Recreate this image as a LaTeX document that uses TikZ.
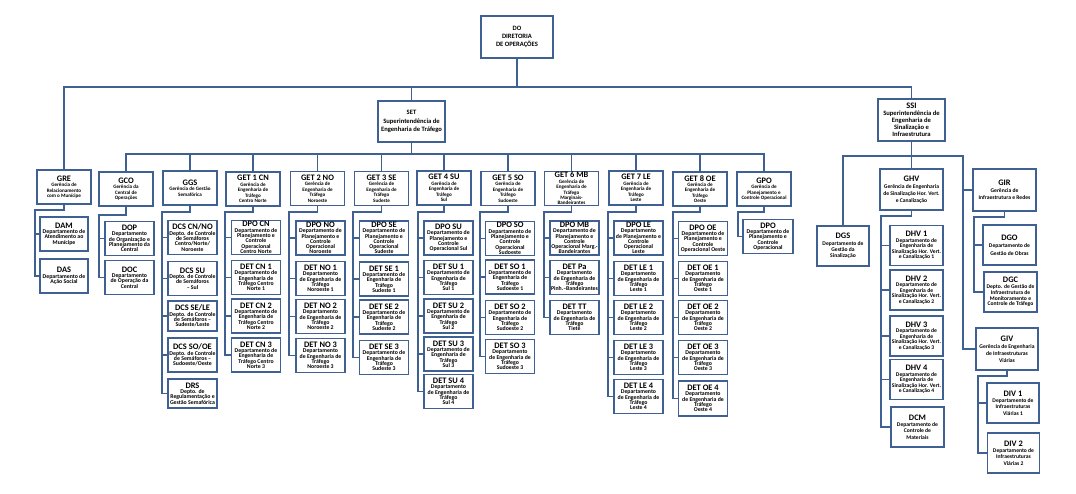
\documentclass[tikz,border=0pt]{standalone}
\usepackage{fontspec}
\setmainfont{Carlito}
\usepackage{tikz}
\usepackage{xcolor}
\definecolor{orgblue}{RGB}{62,96,146}
\newcommand{\ttl}{\fontsize{8.4}{8}\selectfont}
\tikzset{
	unit/.style={draw=orgblue, line width=1.4pt, fill=white, align=center, inner sep=0.5pt},
	topbox/.style={unit, font=\fontsize{6.6}{8.3}\selectfont\bfseries},
	mgr/.style={unit, minimum width=54pt, minimum height=34pt, font=\fontsize{5.1}{5.4}\selectfont\bfseries},
	dept/.style={unit, minimum width=49pt, minimum height=34pt, font=\fontsize{5.8}{5.3}\selectfont\bfseries},
	smgr/.style={unit, minimum width=63pt, minimum height=41pt, font=\fontsize{5.6}{7}\selectfont\bfseries},
	sdept/.style={unit, minimum width=53pt, minimum height=40pt, font=\fontsize{5.6}{6.2}\selectfont\bfseries},
	link/.style={draw=orgblue, line width=1.4pt}
}
\begin{document}
\begin{tikzpicture}[x=1pt,y=-1pt]
		\useasboundingbox (0,0) rectangle (1076,494);
		\node[topbox, minimum width=72pt, minimum height=42pt] (DO) at (517,37) {DO\\DIRETORIA\\DE OPERAÇÕES};
		\node[topbox, minimum width=67pt, minimum height=41pt] (SET) at (411.5,121.5) {SET\\Superintendência de\\Engenharia de Tráfego};
		\node[topbox, minimum width=67pt, minimum height=42pt, font=\fontsize{6.6}{7}\selectfont\bfseries] (SSI) at (911.5,120) {{\ttl SSI}\\Superintendência de\\Engenharia de\\Sinalização e\\Infraestrutura};

		\node[mgr] (GRE) at (64,187) {{\ttl GRE}\\Gerência de\\Relacionamento\\com o Munícipe};
		\node[mgr] (GCO) at (126,189) {{\ttl GCO}\\Gerência da\\Central de\\Operações};
		\node[mgr] (GGS) at (190,188) {{\ttl GGS}\\Gerência de Gestão\\Semafórica};
		\node[mgr] (GET1) at (253,189) {{\ttl GET 1 CN}\\Gerência de\\Engenharia  de\\Tráfego\\Centro Norte};
		\node[mgr] (GET2) at (317.5,188.5) {{\ttl GET 2 NO}\\Gerência de\\Engenharia de\\Tráfego\\Noroeste};
		\node[mgr] (GET3) at (381.5,188.5) {{\ttl GET 3 SE}\\Gerência de\\Engenharia de\\Tráfego\\Sudeste};
		\node[mgr] (GET4) at (444,188) {{\ttl GET 4 SU}\\Gerência de\\Engenharia de\\Tráfego\\Sul};
		\node[mgr] (GET5) at (508,188.5) {{\ttl GET 5 SO}\\Gerência de\\Engenharia de\\Tráfego\\Sudoeste};
		\node[mgr] (GET6) at (571.5,188.5) {{\ttl GET 6 MB}\\Gerência de\\Engenharia de\\Tráfego\\Marginais-\\Bandeirantes};
		\node[mgr] (GET7) at (636,188) {{\ttl GET 7 LE}\\Gerência de\\Engenharia de\\Tráfego\\Leste};
		\node[mgr] (GET8) at (700,189) {{\ttl GET 8 OE}\\Gerência de\\Engenharia de\\Tráfego\\Oeste};
		\node[mgr] (GPO) at (764,189) {{\ttl GPO}\\Gerência de\\Planejamento e\\Controle  Operacional};

		\node[dept, minimum width=48pt] (DAM) at (64,234) {{\ttl DAM}\\Departamento de\\Atendimento ao\\Munícipe};
		\node[dept, minimum width=48pt] (DAS) at (64,276) {{\ttl DAS}\\Departamento de\\Ação Social};

		\node[dept] (DOP) at (129.5,238.5) {{\ttl DOP}\\Departamento\\de Organização e\\Planejamento da\\Central};
		\node[dept] (DOC) at (129.5,277.5) {{\ttl DOC}\\Departamento\\de Operação da\\Central};

		\node[dept] (DCSCN) at (192.5,237.5) {{\ttl DCS CN/NO}\\Depto. de Controle\\de Semáforos\\Centro/Norte/\\Noroeste};
		\node[dept] (DCSSU) at (192.5,278.5) {{\ttl DCS SU}\\Depto. de Controle\\de Semáforos\\– Sul};
		\node[dept, minimum height=30pt] (DCSSE) at (192.5,316) {{\ttl DCS SE/LE}\\Depto. de Controle\\de Semáforos –\\Sudeste/Leste};
		\node[dept] (DCSSO) at (192.5,355) {{\ttl DCS SO/OE}\\Depto. de Controle\\de Semáforos –\\Sudoeste/Oeste};
		\node[dept, minimum height=29pt] (DRS) at (192.5,393.5) {{\ttl DRS}\\Depto. de\\Regulamentação e\\Gestão Semafórica};

		\node[dept] (DPOCN) at (256,237.5) {{\ttl DPO CN}\\Departamento de\\Planejamento e\\Controle\\Operacional\\Centro Norte};
		\node[dept] (DETCN1) at (256,277.5) {{\ttl DET CN 1}\\Departamento de\\Engenharia de\\Tráfego Centro\\Norte 1};
		\node[dept] (DETCN2) at (256,316) {{\ttl DET CN 2}\\Departamento de\\Engenharia de\\Tráfego Centro\\Norte 2};
		\node[dept] (DETCN3) at (256,355) {{\ttl DET CN 3}\\Departamento de\\Engenharia de\\Tráfego Centro\\Norte 3};

		\node[dept] (DPONO) at (320.5,238) {{\ttl DPO NO}\\Departamento de\\Planejamento e\\Controle\\Operacional\\Noroeste};
		\node[dept] (DETNO1) at (320.5,278.5) {{\ttl DET NO 1}\\Departamento\\de Engenharia de\\Tráfego\\Noroeste 1};
		\node[dept] (DETNO2) at (320.5,316.5) {{\ttl DET NO 2}\\Departamento\\de Engenharia de\\Tráfego\\Noroeste 2};
		\node[dept] (DETNO3) at (320.5,355.5) {{\ttl DET NO 3}\\Departamento\\de Engenharia de\\Tráfego\\Noroeste 3};

		\node[dept] (DPOSE) at (384,238) {{\ttl DPO SE}\\Departamento de\\Planejamento e\\Controle\\Operacional\\Sudeste};
		\node[dept] (DETSE1) at (384,279) {{\ttl DET SE 1}\\Departamento de\\Engenharia de\\Tráfego\\Sudeste 1};
		\node[dept] (DETSE2) at (384,317) {{\ttl DET SE 2}\\Departamento de\\Engenharia de\\Tráfego\\Sudeste 2};
		\node[dept] (DETSE3) at (384,357.5) {{\ttl DET SE 3}\\Departamento de\\Engenharia de\\Tráfego\\Sudeste 3};

		\node[dept] (DPOSU) at (448.5,238) {{\ttl DPO SU}\\Departamento de\\Planejamento e\\Controle\\Operacional Sul};
		\node[dept] (DETSU1) at (448.5,277.5) {{\ttl DET SU 1}\\Departamento de\\Engenharia de\\Tráfego\\Sul 1};
		\node[dept] (DETSU2) at (448.5,316) {{\ttl DET SU 2}\\Departamento de\\Engenharia de\\Tráfego\\Sul 2};
		\node[dept] (DETSU3) at (448.5,354) {{\ttl DET SU 3}\\Departamento de\\Engenharia de\\Tráfego\\Sul 3};
		\node[dept] (DETSU4) at (448.5,391.5) {{\ttl DET SU 4}\\Departamento\\de Engenharia de\\Tráfego\\Sul 4};

		\node[dept] (DPOSO) at (510,238.5) {{\ttl DPO SO}\\Departamento de\\Planejamento e\\Controle\\Operacional\\Sudoeste};
		\node[dept] (DETSO1) at (510,277) {{\ttl DET SO 1}\\Departamento de\\Engenharia de\\Tráfego\\Sudoeste 1};
		\node[dept] (DETSO2) at (510,317.5) {{\ttl DET SO 2}\\Departamento de\\Engenharia de\\Tráfego\\Sudoeste 2};
		\node[dept] (DETSO3) at (510,356.5) {{\ttl DET SO 3}\\Departamento\\de Engenharia de\\Tráfego\\Sudoeste 3};

		\node[dept] (DPOMB) at (574.5,238) {{\ttl DPO MB}\\Departamento de\\Planejamento e\\Controle\\Operacional Marg.-\\Bandeirantes};
		\node[dept] (DETPA) at (574.5,277.5) {{\ttl DET Pa}\\Departamento\\de Engenharia de\\Tráfego\\Pinh.–Bandeirantes};
		\node[dept] (DETTT) at (574.5,317.5) {{\ttl DET TT}\\Departamento\\de Engenharia de\\Tráfego\\Tietê};

		\node[dept] (DPOLE) at (638.5,238) {{\ttl DPO LE}\\Departamento\\de Planejamento e\\Controle\\Operacional\\Leste};
		\node[dept] (DETLE1) at (638.5,278.5) {{\ttl DET LE 1}\\Departamento\\de Engenharia de\\Tráfego\\Leste 1};
		\node[dept] (DETLE2) at (638.5,317.5) {{\ttl DET LE 2}\\Departamento\\de Engenharia de\\Tráfego\\Leste 2};
		\node[dept] (DETLE3) at (638.5,357.5) {{\ttl DET LE 3}\\Departamento\\de Engenharia de\\Tráfego\\Leste 3};
		\node[dept] (DETLE4) at (638.5,396.5) {{\ttl DET LE 4}\\Departamento\\de Engenharia de\\Tráfego\\Leste 4};

		\node[dept] (DPOOE) at (703,238.5) {{\ttl DPO OE}\\Departamento de\\Planejamento e\\Controle\\Operacional Oeste};
		\node[dept] (DETOE1) at (703,278.5) {{\ttl DET OE 1}\\Departamento\\de Engenharia de\\Tráfego\\Oeste 1};
		\node[dept] (DETOE2) at (703,317.5) {{\ttl DET OE 2}\\Departamento\\de Engenharia de\\Tráfego\\Oeste 2};
		\node[dept] (DETOE3) at (703,357.5) {{\ttl DET OE 3}\\Departamento\\de Engenharia de\\Tráfego\\Oeste 3};
		\node[dept, minimum height=35pt] (DETOE4) at (703,398.5) {{\ttl DET OE 4}\\Departamento\\de Engenharia de\\Tráfego\\Oeste 4};

		\node[dept, minimum width=50pt] (DPOGP) at (768,236.5) {{\ttl DPO}\\Departamento de\\Planejamento e\\Controle\\Operacional};

		\node[sdept, minimum width=52pt] (DGS) at (843,246) {{\ttl DGS}\\Departamento de\\Gestão da\\Sinalização};
		\node[smgr] (GHV) at (911.5,189.5) {{\ttl GHV}\\Gerência de Engenharia\\de Sinalização Hor. Vert.\\e Canalização};
		\node[smgr, minimum height=42pt] (GIR) at (1004.5,190) {{\ttl GIR}\\Gerência de\\Infraestrutura e Redes};
		\node[smgr, minimum width=62pt, minimum height=42pt] (GIV) at (1007,349) {{\ttl GIV}\\Gerência de Engenharia\\de Infraestruturas\\Viárias};

		\node[sdept, font=\fontsize{5.6}{5.5}\selectfont\bfseries] (DHV1) at (916.5,245.5) {{\ttl DHV 1}\\Departamento de\\Engenharia de\\Sinalização Hor. Vert.\\e Canalização 1};
		\node[sdept, font=\fontsize{5.6}{5.5}\selectfont\bfseries] (DHV2) at (916.5,290) {{\ttl DHV 2}\\Departamento de\\Engenharia de\\Sinalização Hor. Vert.\\e Canalização 2};
		\node[sdept, font=\fontsize{5.6}{5.5}\selectfont\bfseries] (DHV3) at (916.5,336) {{\ttl DHV 3}\\Departamento de\\Engenharia de\\Sinalização Hor. Vert.\\e Canalização 3};
		\node[sdept, font=\fontsize{5.6}{5.5}\selectfont\bfseries] (DHV4) at (916.5,379.5) {{\ttl DHV 4}\\Departamento de\\Engenharia de\\Sinalização Hor. Vert.\\e Canalização 4};
		\node[sdept] (DCM) at (917.5,427) {{\ttl DCM}\\Departamento de\\Controle de\\Materiais};

		\node[sdept, font=\fontsize{5.6}{7.7}\selectfont\bfseries] (DGO) at (1009.5,245) {{\ttl DGO}\\Departamento de\\Gestão de Obras};
		\node[sdept, font=\fontsize{5.6}{5.8}\selectfont\bfseries] (DGC) at (1010.5,292) {{\ttl DGC}\\Depto. de Gestão de\\Infraestrutura de\\Monitoramento e\\Controle de Tráfego};

		\node[sdept, minimum width=52pt] (DIV1) at (1013,403) {{\ttl DIV 1}\\Departamento de\\Infraestruturas\\Viárias 1};
		\node[sdept, minimum width=52pt] (DIV2) at (1013.5,453) {{\ttl DIV 2}\\Departamento de\\Infraestruturas\\Viárias 2};

		\coordinate (DOb) at (517,87);
		\coordinate (SETb) at (411.5,154);
		\coordinate (SSIb) at (911.5,156);
		\coordinate (SSIr) at (963,156);
		\draw[link] (DO.south) -- (DOb);
		\draw[link] (GRE.north) |- (DOb) -| (SSI.north);
		\draw[link] (SET.north) -- (SET.north |- DOb);
		\draw[link] (SET.south) -- (SETb);
		\draw[link] (GCO.north) |- (SETb) -| (GPO.north);
		\draw[link] (GGS.north) -- (GGS.north |- SETb);
		\draw[link] (GET1.north) -- (GET1.north |- SETb);
		\draw[link] (GET2.north) -- (GET2.north |- SETb);
		\draw[link] (GET3.north) -- (GET3.north |- SETb);
		\draw[link] (GET4.north) -- (GET4.north |- SETb);
		\draw[link] (GET5.north) -- (GET5.north |- SETb);
		\draw[link] (GET6.north) -- (GET6.north |- SETb);
		\draw[link] (GET7.north) -- (GET7.north |- SETb);
		\draw[link] (GET8.north) -- (GET8.north |- SETb);

		\coordinate (GREb) at (35,210);
		\coordinate (GCOb) at (99,215);
		\coordinate (GGSb) at (162,212);
		\coordinate (GET1b) at (225,212);
		\coordinate (GET2b) at (289,212);
		\coordinate (GET3b) at (353,212);
		\coordinate (GET4b) at (418,212);
		\coordinate (GET5b) at (480,212);
		\coordinate (GET6b) at (544,212);
		\coordinate (GET7b) at (608,212);
		\coordinate (GET8b) at (673,212);
		\coordinate (GPOb) at (738,212);
		\draw[link] (GRE.south) |- (GREb) |- (DAS.west) (GREb |- DAM.west) -- (DAM.west);
		\draw[link] (GCO.south) |- (GCOb) |- (DOC.west) (GCOb |- DOP.west) -- (DOP.west);
		\draw[link] (GGS.south) |- (GGSb) |- (DRS.west) (GGSb |- DCSCN.west) -- (DCSCN.west) (GGSb |- DCSSU.west) -- (DCSSU.west) (GGSb |- DCSSE.west) -- (DCSSE.west) (GGSb |- DCSSO.west) -- (DCSSO.west);
		\draw[link] (GET1.south) |- (GET1b) |- (DETCN3.west) (GET1b |- DPOCN.west) -- (DPOCN.west) (GET1b |- DETCN1.west) -- (DETCN1.west) (GET1b |- DETCN2.west) -- (DETCN2.west);
		\draw[link] (GET2.south) |- (GET2b) |- (DETNO3.west) (GET2b |- DPONO.west) -- (DPONO.west) (GET2b |- DETNO1.west) -- (DETNO1.west) (GET2b |- DETNO2.west) -- (DETNO2.west);
		\draw[link] (GET3.south) |- (GET3b) |- (DETSE3.west) (GET3b |- DPOSE.west) -- (DPOSE.west) (GET3b |- DETSE1.west) -- (DETSE1.west) (GET3b |- DETSE2.west) -- (DETSE2.west);
		\draw[link] (GET4.south) |- (GET4b) |- (DETSU4.west) (GET4b |- DPOSU.west) -- (DPOSU.west) (GET4b |- DETSU1.west) -- (DETSU1.west) (GET4b |- DETSU2.west) -- (DETSU2.west) (GET4b |- DETSU3.west) -- (DETSU3.west);
		\draw[link] (GET5.south) |- (GET5b) |- (DETSO3.west) (GET5b |- DPOSO.west) -- (DPOSO.west) (GET5b |- DETSO1.west) -- (DETSO1.west) (GET5b |- DETSO2.west) -- (DETSO2.west);
		\draw[link] (GET6.south) |- (GET6b) |- (DETTT.west) (GET6b |- DPOMB.west) -- (DPOMB.west) (GET6b |- DETPA.west) -- (DETPA.west);
		\draw[link] (GET7.south) |- (GET7b) |- (DETLE4.west) (GET7b |- DPOLE.west) -- (DPOLE.west) (GET7b |- DETLE1.west) -- (DETLE1.west) (GET7b |- DETLE2.west) -- (DETLE2.west) (GET7b |- DETLE3.west) -- (DETLE3.west);
		\draw[link] (GET8.south) |- (GET8b) |- (DETOE4.west) (GET8b |- DPOOE.west) -- (DPOOE.west) (GET8b |- DETOE1.west) -- (DETOE1.west) (GET8b |- DETOE2.west) -- (DETOE2.west) (GET8b |- DETOE3.west) -- (DETOE3.west);
		\draw[link] (GPO.south) |- (GPOb) |- (DPOGP.west);

		\draw[link] (SSI.south) -- (SSIb);
		\draw[link] (DGS.north) |- (SSIr) |- (GIV.west);
		\draw[link] (GHV.north) -- (GHV.north |- SSIb);
		\draw[link] (SSIr |- GIR.west) -- (GIR.west);
		\coordinate (GHVb) at (881,216);
		\coordinate (GIRb) at (974,217);
		\coordinate (GIVb) at (978,376);
		\draw[link] (GHV.south) |- (GHVb) |- (DCM.west) (GHVb |- DHV1.west) -- (DHV1.west) (GHVb |- DHV2.west) -- (DHV2.west) (GHVb |- DHV3.west) -- (DHV3.west) (GHVb |- DHV4.west) -- (DHV4.west);
		\draw[link] (GIR.south) |- (GIRb) |- (DGC.west) (GIRb |- DGO.west) -- (DGO.west);
		\draw[link] (GIV.south) |- (GIVb) |- (DIV2.west) (GIVb |- DIV1.west) -- (DIV1.west);
	\end{tikzpicture}
\end{document}
